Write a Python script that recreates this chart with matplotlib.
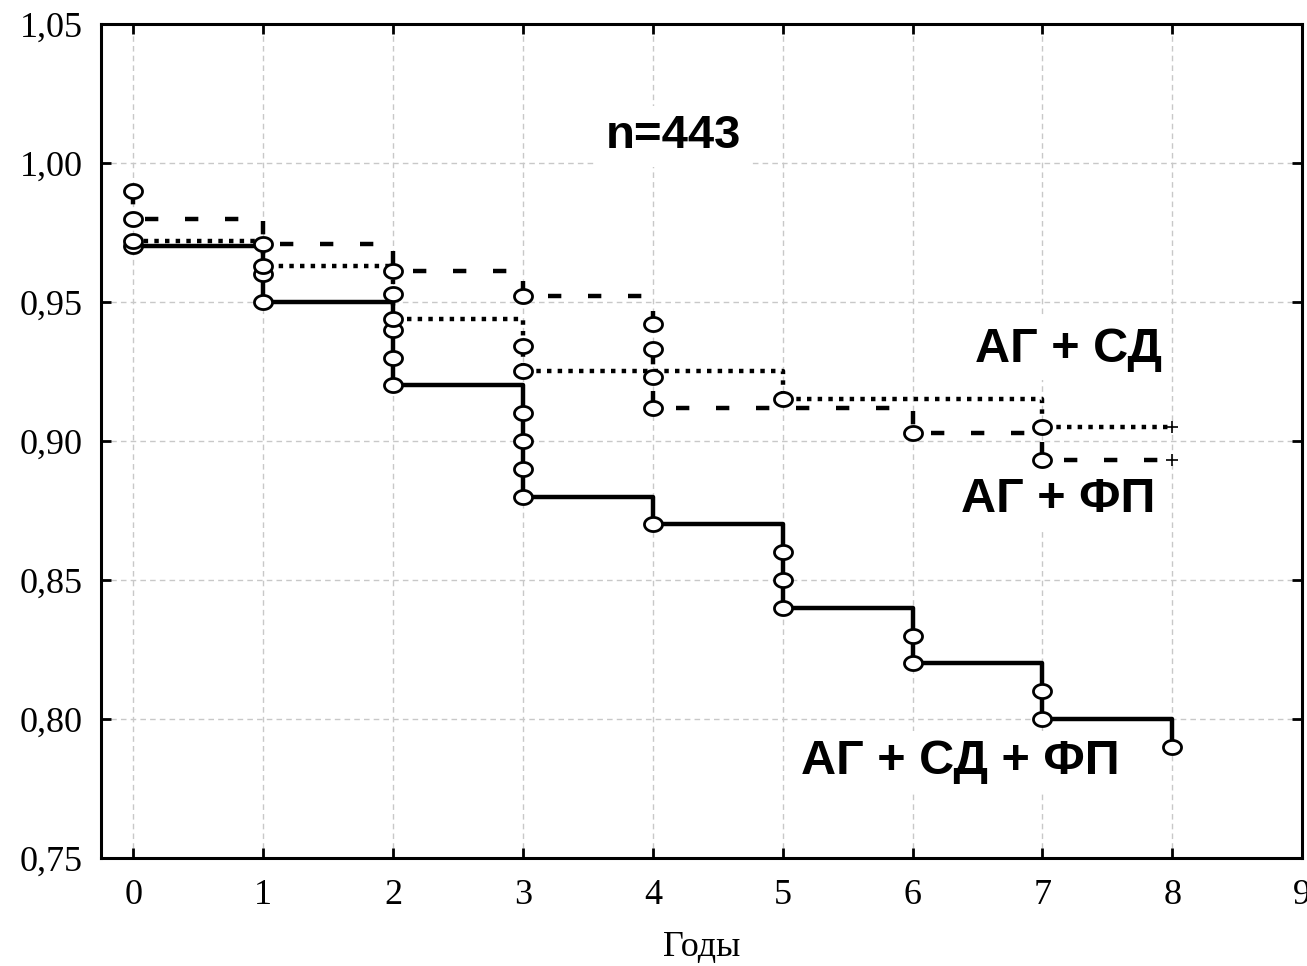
import matplotlib.pyplot as plt
from matplotlib.path import Path
import numpy as np

# Kaplan-Meier survival: event times (years) and cumulative survival after each event
t_ag_sd_fp = [0, 1, 1, 2, 2, 2, 3, 3, 3, 3, 4, 5, 5, 5, 6, 6, 7, 7, 8]
s_ag_sd_fp = [0.970, 0.960, 0.950, 0.940, 0.930, 0.920, 0.910, 0.900, 0.890, 0.880,
              0.870, 0.860, 0.850, 0.840, 0.830, 0.820, 0.810, 0.800, 0.790]

t_ag_fp = [0, 0, 1, 2, 3, 4, 4, 4, 4, 6, 7]
s_ag_fp = [0.990, 0.980, 0.971, 0.961, 0.952, 0.942, 0.933, 0.923, 0.912, 0.903, 0.893]

t_ag_sd = [0, 1, 2, 2, 3, 3, 5, 7]
s_ag_sd = [0.972, 0.963, 0.953, 0.944, 0.934, 0.925, 0.915, 0.905]

follow_up_end = 8
x_ticks = list(range(10))
y_ticks = [0.75, 0.80, 0.85, 0.90, 0.95, 1.00, 1.05]

plt.rcParams['font.family'] = ['Liberation Serif', 'DejaVu Serif']

# slightly flattened open circle marker
theta = np.linspace(0, 2 * np.pi, 60)
ellipse = Path(np.column_stack([np.cos(theta), 0.78 * np.sin(theta)]), closed=True)

fig = plt.figure(figsize=(13.07, 9.66), dpi=100)
ax = fig.add_axes([0.0773, 0.1118, 0.9189, 0.8634])

lw = 3.2
styles = [
    (t_ag_sd_fp, s_ag_sd_fp, '-', False),
    (t_ag_fp, s_ag_fp, (0, (3.0, 6.0)), True),
    (t_ag_sd, s_ag_sd, (0, (1.0, 1.4)), True),
]
for t, s, ls, extend in styles:
    xs = list(t)
    ys = list(s)
    if extend:
        xs.append(follow_up_end)
        ys.append(s[-1])
    ax.plot(xs, ys, drawstyle='steps-post', color='black', lw=lw, linestyle=ls,
            dash_capstyle='butt', solid_capstyle='butt', zorder=3)
    ax.plot(t, s, linestyle='none', marker=ellipse, markersize=13,
            markerfacecolor='white', markeredgecolor='black', markeredgewidth=2, zorder=4)
    if extend:
        ax.plot([follow_up_end], [s[-1]], linestyle='none', marker='+', markersize=9,
                color='black', markeredgewidth=1.2, zorder=4)

ax.plot([t_ag_sd_fp[-1]], [s_ag_sd_fp[-1]], linestyle='none', marker='+', markersize=9,
        color='#1010d0', markeredgewidth=1.2, zorder=2)

ax.set_xlim(-0.25, 9)
ax.set_ylim(0.75, 1.05)
ax.set_xticks(x_ticks)
ax.set_yticks(y_ticks)
ax.set_yticklabels([f'{v:.2f}'.replace('.', ',') for v in y_ticks])
ax.tick_params(direction='in', length=7, width=2, labelsize=26, top=True, right=True)
ax.tick_params(axis='x', pad=15)
ax.tick_params(axis='y', pad=13)
for sp in ax.spines.values():
    sp.set_linewidth(2.2)
ax.grid(True, color='#c8c8c8', linestyle=(0, (4, 3)), lw=1)
ax.set_axisbelow(True)

ax.set_xlabel('Годы', fontsize=26, labelpad=14)

box = dict(facecolor='white', edgecolor='none', pad=6)
lab = dict(family=['Liberation Sans', 'DejaVu Sans'], weight='bold', fontsize=35,
           ha='center', va='center', zorder=5, bbox=box)
ax.text(4.16, 1.0096, 'n=443', **dict(lab, fontsize=34))
ax.text(7.2, 0.933, 'АГ + СД', **lab)
ax.text(7.12, 0.879, 'АГ + ФП', **lab)
ax.text(6.37, 0.7846, 'АГ + СД + ФП', **lab)

fig.savefig('out.png', dpi=100)
